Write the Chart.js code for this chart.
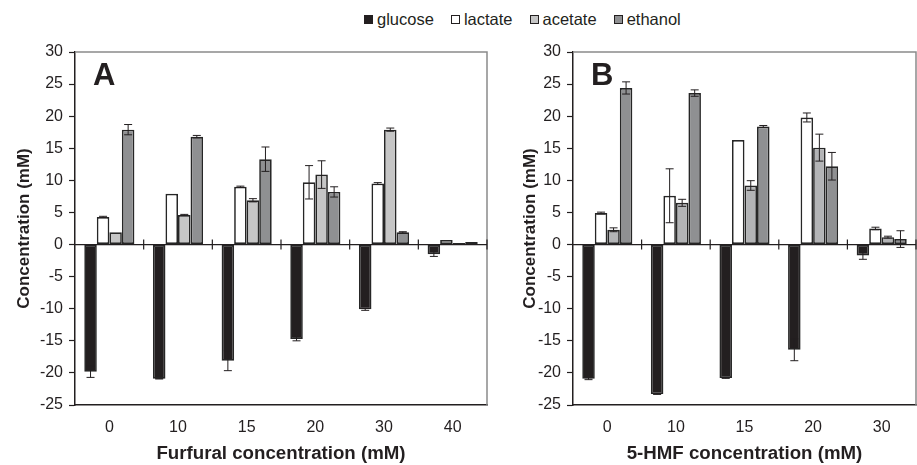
<!DOCTYPE html>
<html>
<head>
<meta charset="utf-8">
<script src="https://cdn.jsdelivr.net/npm/chart.js@4.4.0/dist/chart.umd.min.js"></script>
<style>
  body { margin: 0; background: #fff; font-family: "Liberation Sans", Arial, sans-serif; }
  #wrap { position: relative; width: 917px; height: 465px; overflow: hidden; }
  #chartA { position: absolute; left: 0; top: 0; }
  #chartB { position: absolute; left: 506px; top: 0; }
  #legend { position: absolute; top: 10px; left: 364px; display: flex; font-size: 16.5px; color: #231f20; }
  #legend span.item { display: flex; align-items: center; margin-right: 17px; }
  #legend i { display: inline-block; width: 7px; height: 7px; border: 1.5px solid #231f20; margin-right: 4px; }
</style>
</head>
<body>
<div id="wrap">
  <div id="legend"></div>
  <canvas id="chartA" width="500" height="465"></canvas>
  <canvas id="chartB" width="411" height="465"></canvas>
</div>
<script>
// series names + fills
const seriesNames = ['glucose', 'lactate', 'acetate', 'ethanol'];
const fillsA = ['#231f20', '#ffffff', '#c6c6c6', '#8f9092'];
const fillsB = ['#231f20', '#ffffff', '#b3b4b6', '#8f9092'];

// Panel A : furfural
const categoriesA = ['0', '10', '15', '20', '30', '40'];
const glucoseA = [-19.8, -20.9, -18.1, -14.7, -10.1, -1.5];
const lactateA = [4.3, 7.9, 9.0, 9.7, 9.5, 0.7];
const acetateA = [1.9, 4.6, 6.9, 10.9, 17.9, 0.25];
const ethanolA = [17.9, 16.8, 13.3, 8.2, 1.9, 0.4];
const glucoseErrA = [0.9, 0.05, 1.55, 0.3, 0.15, 0.35];
const lactateErrA = [0.1, 0, 0.1, 2.6, 0.15, 0];
const acetateErrA = [0, 0.1, 0.25, 2.15, 0.25, 0];
const ethanolErrA = [0.8, 0.2, 1.9, 0.8, 0.1, 0];

// Panel B : 5-HMF
const categoriesB = ['0', '10', '15', '20', '30'];
const glucoseB = [-20.9, -23.3, -20.8, -16.4, -1.7];
const lactateB = [4.9, 7.6, 16.3, 19.8, 2.5];
const acetateB = [2.3, 6.5, 9.2, 15.1, 1.15];
const ethanolB = [24.4, 23.6, 18.4, 12.2, 0.85];
const glucoseErrB = [0.15, 0.05, 0.05, 1.7, 0.6];
const lactateErrB = [0.15, 4.2, 0, 0.7, 0.2];
const acetateErrB = [0.3, 0.55, 0.75, 2.1, 0.15];
const ethanolErrB = [0.95, 0.5, 0.15, 2.15, 1.3];

const yTicks = [-25, -20, -15, -10, -5, 0, 5, 10, 15, 20, 25, 30];

const FONT = '"Liberation Sans", Arial, sans-serif';
const INK = '#231f20';

// legende html
const legendDiv = document.getElementById('legend');
seriesNames.forEach((n, i) => {
  const s = document.createElement('span');
  s.className = 'item';
  s.innerHTML = `<i style="background:${fillsA[i]}"></i>${n}`;
  legendDiv.appendChild(s);
});

// error bars, zero line, frame, panel letter
const extras = {
  id: 'extras',
  afterDatasetsDraw(chart, args, opts) {
    const ctx = chart.ctx;
    const area = chart.chartArea;
    const y = chart.scales.y;
    ctx.save();
    // cadre gris haut + droite
    ctx.strokeStyle = '#8a8a8a';
    ctx.lineWidth = 1.5;
    ctx.beginPath();
    ctx.moveTo(area.left, area.top);
    ctx.lineTo(area.right, area.top);
    ctx.lineTo(area.right, area.bottom);
    ctx.stroke();

    // ligne zero + ticks entre categories
    const y0 = y.getPixelForValue(0);
    ctx.strokeStyle = INK;
    ctx.lineWidth = 1.2;
    ctx.beginPath();
    ctx.moveTo(area.left, y0);
    ctx.lineTo(area.right, y0);
    const n = chart.data.labels.length;
    const step = (area.right - area.left) / n;
    for (let i = 1; i <= n; i++) {
      const bx = area.left + step * i;
      ctx.moveTo(bx, y0 - 5);
      ctx.lineTo(bx, y0 + 5);
    }
    ctx.stroke();

    // barres d'erreur
    ctx.lineWidth = 1;
    chart.data.datasets.forEach((ds, di) => {
      const meta = chart.getDatasetMeta(di);
      meta.data.forEach((bar, j) => {
        const e = ds.errors[j];
        if (!e) return;
        const v = ds.data[j];
        const yt = y.getPixelForValue(v + e);
        const yb = y.getPixelForValue(v - e);
        ctx.beginPath();
        ctx.moveTo(bar.x, yt);
        ctx.lineTo(bar.x, yb);
        ctx.moveTo(bar.x - 4, yt);
        ctx.lineTo(bar.x + 4, yt);
        ctx.moveTo(bar.x - 4, yb);
        ctx.lineTo(bar.x + 4, yb);
        ctx.stroke();
      });
    });

    // lettre du panneau
    ctx.fillStyle = INK;
    ctx.font = 'bold 31px ' + FONT;
    ctx.textBaseline = 'alphabetic';
    ctx.fillText(opts.letter, area.left + 18, area.top + 33);
    ctx.restore();
  }
};

function makeChart(id, labels, series, errs, fills, letter, xTitle, yWidth, rightPad) {
  const datasets = series.map((d, i) => ({
    label: seriesNames[i],
    data: d,
    errors: errs[i],
    backgroundColor: fills[i],
    borderColor: '#262626',
    borderWidth: 1.7,
    borderSkipped: false,
    barPercentage: 1,
    categoryPercentage: 0.73
  }));
  return new Chart(document.getElementById(id), {
    type: 'bar',
    data: { labels: labels, datasets: datasets },
    plugins: [extras],
    options: {
      responsive: false,
      animation: false,
      layout: { padding: { top: 52, right: rightPad, bottom: 0, left: 0 } },
      plugins: {
        legend: { display: false },
        tooltip: { enabled: false },
        extras: { letter: letter }
      },
      scales: {
        x: {
          grid: { display: false },
          border: { display: true, color: INK, width: 1.5 },
          ticks: { color: INK, font: { family: FONT, size: 16 }, padding: 5 },
          title: { display: true, text: xTitle, color: INK, font: { family: FONT, size: 18.7, weight: 'bold' }, padding: 0 },
          afterFit(s) { s.height = 60; }
        },
        y: {
          min: -25,
          max: 30,
          afterBuildTicks(s) { s.ticks = yTicks.map(v => ({ value: v })); },
          grid: { drawOnChartArea: false, color: INK, tickLength: 6, tickWidth: 1.2 },
          border: { display: true, color: INK, width: 1.5 },
          ticks: { color: INK, font: { family: FONT, size: 16 }, padding: 6 },
          title: { display: true, text: 'Concentration (mM)', color: INK, font: { family: FONT, size: 17, weight: 'bold' }, padding: 14 },
          afterFit(s) { s.width = yWidth; }
        }
      }
    }
  });
}

makeChart('chartA', categoriesA,
  [glucoseA, lactateA, acetateA, ethanolA],
  [glucoseErrA, lactateErrA, acetateErrA, ethanolErrA],
  fillsA, 'A', 'Furfural concentration (mM)', 75, 13);

makeChart('chartB', categoriesB,
  [glucoseB, lactateB, acetateB, ethanolB],
  [glucoseErrB, lactateErrB, acetateErrB, ethanolErrB],
  fillsB, 'B', '5-HMF concentration (mM)', 67, 1);
</script>
</body>
</html>
